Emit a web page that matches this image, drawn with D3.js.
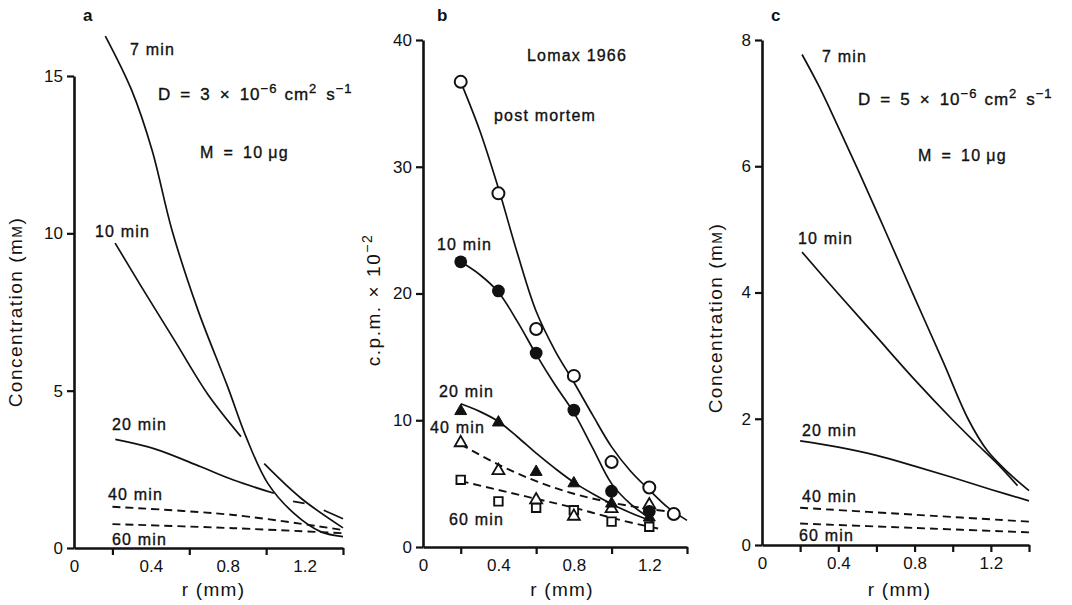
<!DOCTYPE html>
<html><head><meta charset="utf-8">
<script src="https://cdn.jsdelivr.net/npm/d3@7"></script>
<style>
body{margin:0;background:#fff;}
svg text{font-family:"Liberation Sans",Arial,Helvetica,sans-serif;fill:#111;}
</style></head><body>
<svg id="chart" width="1072" height="605"></svg>
<script>
// ---------- shared axis data ----------
const xTickLabels = [0, 0.4, 0.8, 1.2];
const xTicksSparse = [0.2, 0.6, 1.0, 1.4];
const xTicksDense = [0.2, 0.4, 0.6, 0.8, 1.0, 1.2, 1.4];
const yTicksA = [0, 5, 10, 15];
const yTicksB = [0, 10, 20, 30, 40];
const yTicksC = [0, 2, 4, 6, 8];

// ---------- panel a : D = 3e-6, concentration (mM) vs r (mm) ----------
const a7min  = [[[0.163,16.27],[0.30,14.55],[0.406,12.65],[0.51,10.1],[0.645,7.56],[0.80,5.12],[0.895,3.54],[1.007,2.07],[1.145,1.10],[1.283,0.52],[1.40,0.36]]];
const a10min = [[[0.214,9.69],[0.352,8.29],[0.524,6.59],[0.697,4.88],[0.869,3.54]],
                [[0.99,2.68],[1.18,1.59],[1.40,0.64]]];
const a20min = [[[0.215,3.45],[0.42,3.15],[0.66,2.58],[0.83,2.16],[1.04,1.74]],
                [[1.14,1.48],[1.20,1.42]],
                [[1.30,1.20],[1.40,0.93]]];
const a40min = [[[0.2,1.31],[0.83,1.05],[1.4,0.57]]];
const a60min = [[[0.2,0.76],[0.83,0.63],[1.4,0.47]]];

// ---------- panel b : Lomax 1966, c.p.m. x 10^-2 ----------
const bR = [0.2, 0.4, 0.6, 0.8, 1.0, 1.2];
const bPostMortemR = [0.2, 0.4, 0.6, 0.8, 1.0, 1.2, 1.33];
const bPostMortem  = [36.7, 27.9, 17.2, 13.5, 6.7, 4.7, 2.6];
const b10min = [22.5, 20.2, 15.3, 10.8, 4.4, 2.8];
const b20min = [10.8, 9.9, 6.0, 5.1, 3.5, 2.4];
const b40min = [8.3, 6.1, 3.8, 2.5, 3.1, 3.4];
const b60min = [5.3, 3.6, 3.1, 2.9, 2.0, 1.6];
// hand-drawn fitted curves
const bFitPostMortem = [[0.2,36.7],[0.3,32.9],[0.4,28.3],[0.5,23.2],[0.6,18.6],[0.7,15.5],[0.8,13.0],[0.9,10.4],[1.0,7.9],[1.1,6.0],[1.2,4.5],[1.3,3.1],[1.4,2.1]];
const bFit10min = [[0.2,22.5],[0.3,21.5],[0.4,20.1],[0.5,17.8],[0.6,15.2],[0.7,12.8],[0.8,10.6],[0.9,7.8],[1.0,5.0],[1.1,3.4],[1.2,2.3]];
const bFit20min = [[0.2,11.3],[0.3,10.7],[0.4,9.9],[0.5,8.7],[0.6,7.4],[0.7,6.2],[0.8,5.1],[0.9,4.2],[1.0,3.4],[1.1,2.7],[1.22,2.0]];
const bFit40min = [[0.2,8.1],[0.4,6.5],[0.6,5.2],[0.8,4.2],[1.0,3.5],[1.2,3.0],[1.3,2.8]];
const bFit60min = [[0.2,5.2],[0.4,4.5],[0.6,3.8],[0.8,3.1],[1.0,2.3],[1.2,1.6],[1.27,1.4]];

// ---------- panel c : D = 5e-6 ----------
const c7min  = [[[0.21,7.77],[0.30,7.26],[0.40,6.62],[0.51,5.9],[0.65,4.95],[0.80,3.92],[0.95,2.9],[1.08,2.0],[1.18,1.5],[1.29,1.15],[1.4,0.86]]];
const c10min = [[[0.21,4.64],[0.4,3.98],[0.6,3.3],[0.8,2.62],[1.0,1.98],[1.12,1.62],[1.24,1.27],[1.34,0.94]]];
const c20min = [[[0.2,1.65],[0.4,1.55],[0.6,1.42],[0.8,1.25],[1.0,1.07],[1.2,0.88],[1.4,0.70]]];
const c40min = [[[0.2,0.59],[0.8,0.48],[1.4,0.37]]];
const c60min = [[[0.2,0.34],[0.8,0.27],[1.4,0.20]]];

// ---------- drawing ----------
const svg = d3.select("#chart");
const INK = "#111";

function panel(cfg){
  const g = svg.append("g");
  const x = d3.scaleLinear().domain([0,1.4]).range(cfg.xr);
  const y = d3.scaleLinear().domain(cfg.yd).range(cfg.yr);
  const y0 = cfg.yr[0];

  const xa = g.append("g").attr("transform",`translate(0,${y0})`)
    .call(d3.axisBottom(x).tickValues(cfg.xTicks).tickSize(7).tickSizeOuter(0).tickFormat(""));
  xa.select(".domain").attr("stroke",INK).attr("stroke-width",2.6);
  xa.selectAll(".tick line").attr("stroke",INK).attr("stroke-width",2.2);
  const xl = g.append("g").attr("transform",`translate(0,${y0})`)
    .call(d3.axisBottom(x).tickValues(xTickLabels).tickSize(0).tickPadding(12).tickFormat(d=>d===0?"0":d3.format(".1f")(d)));
  xl.select(".domain").remove();
  xl.selectAll("text").attr("font-size",17).attr("fill","#222").style("font-family","Liberation Sans, Arial, sans-serif");

  const ya = g.append("g").attr("transform",`translate(${cfg.xr[0]},0)`)
    .call(d3.axisLeft(y).tickValues(cfg.yTicks).tickSize(7).tickSizeOuter(0).tickPadding(4));
  ya.select(".domain").attr("stroke",INK).attr("stroke-width",2.6);
  ya.selectAll(".tick line").attr("stroke",INK).attr("stroke-width",2.2);
  ya.selectAll("text").attr("font-size",17).attr("fill","#222").style("font-family","Liberation Sans, Arial, sans-serif");

  g.append("text").attr("x",(cfg.xr[0]+cfg.xr[1])/2+cfg.xTitleDx).attr("y",596)
    .attr("text-anchor","middle").attr("font-size",19).attr("letter-spacing",1.3).text("r (mm)");
  g.append("text").attr("x",cfg.letter[0]).attr("y",cfg.letter[1])
    .attr("font-size",17).attr("font-weight","bold").text(cfg.letterText);

  const line = d3.line().x(d=>x(d[0])).y(d=>y(d[1])).curve(d3.curveCatmullRom.alpha(0.5));
  return {g,x,y,line};
}

function drawSeries(p, segs, dashed){
  segs.forEach(s=>{
    p.g.append("path").attr("d",p.line(s)).attr("fill","none").attr("stroke",INK)
      .attr("stroke-width",dashed?1.9:1.7).attr("stroke-dasharray",dashed?"8,5":null);
  });
}

function label(p, x, y, txt){
  p.g.append("text").attr("x",x).attr("y",y).attr("font-size",16).attr("letter-spacing",1.2)
    .attr("stroke",INK).attr("stroke-width",0.35).text(txt);
}

function dText(p, x, y, num){
  const t = p.g.append("text").attr("x",x).attr("y",y).attr("font-size",17)
    .attr("stroke",INK).attr("stroke-width",0.35).attr("letter-spacing",1);
  t.append("tspan").text("D");
  t.append("tspan").attr("dx",9).text("=");
  t.append("tspan").attr("dx",9).text(num);
  t.append("tspan").attr("dx",9).text("×");
  t.append("tspan").attr("dx",9).text("10");
  t.append("tspan").attr("dy",-7).attr("font-size",13).text("−6");
  t.append("tspan").attr("dy",7).attr("dx",7).text("cm");
  t.append("tspan").attr("dy",-7).attr("font-size",13).text("2");
  t.append("tspan").attr("dy",7).attr("dx",9).text("s");
  t.append("tspan").attr("dy",-7).attr("font-size",13).text("−1");
}

function mText(p, x, y){
  const t = p.g.append("text").attr("x",x).attr("y",y).attr("font-size",16)
    .attr("stroke",INK).attr("stroke-width",0.35).attr("letter-spacing",1.2);
  t.append("tspan").text("M");
  t.append("tspan").attr("dx",9).text("=");
  t.append("tspan").attr("dx",9).text("10");
  t.append("tspan").attr("dx",5).text("μg");
}

function concTitle(p, cx, cy){
  const t = p.g.append("text").attr("transform",`translate(${cx},${cy}) rotate(-90)`)
    .attr("text-anchor","middle").attr("font-size",19).attr("letter-spacing",1.5);
  t.append("tspan").text("Concentration (m");
  t.append("tspan").attr("font-size",14).text("M");
  t.append("tspan").text(")");
}

// ----- panel a -----
const pa = panel({xr:[74,343], yd:[0,15], yr:[548,76], yTicks:yTicksA, xTicks:xTicksSparse,
  letter:[83,21], letterText:"a", xTitleDx:5});
drawSeries(pa,a7min,false); drawSeries(pa,a10min,false); drawSeries(pa,a20min,false);
drawSeries(pa,a40min,true); drawSeries(pa,a60min,true);
label(pa,130,55,"7 min"); label(pa,95,237,"10 min"); label(pa,112,430,"20 min");
label(pa,108,500,"40 min"); label(pa,112,545,"60 min");
dText(pa,158,100,"3");
mText(pa,200,158);
concTitle(pa,22,312);

// ----- panel b -----
const pb = panel({xr:[423,687], yd:[0,40], yr:[547,40], yTicks:yTicksB, xTicks:xTicksSparse,
  letter:[437,21], letterText:"b", xTitleDx:7});
[bFitPostMortem,bFit10min,bFit20min].forEach(s=>drawSeries(pb,[s],false));
[bFit40min,bFit60min].forEach(s=>drawSeries(pb,[s],true));
const tri = d3.symbol().type(d3.symbolTriangle).size(62);
const sq = d3.symbol().type(d3.symbolSquare).size(72);
pb.g.selectAll(".sq").data(bR.map((r,i)=>[r,b60min[i]])).join("path")
  .attr("d",sq).attr("transform",d=>`translate(${pb.x(d[0])},${pb.y(d[1])})`)
  .attr("fill","#fff").attr("stroke",INK).attr("stroke-width",1.9);
pb.g.selectAll(".ot").data(bR.map((r,i)=>[r,b40min[i]])).join("path")
  .attr("d",tri).attr("transform",d=>`translate(${pb.x(d[0])},${pb.y(d[1])+1})`)
  .attr("fill","#fff").attr("stroke",INK).attr("stroke-width",1.8);
pb.g.selectAll(".ft").data(bR.map((r,i)=>[r,b20min[i]])).join("path")
  .attr("d",tri).attr("transform",d=>`translate(${pb.x(d[0])},${pb.y(d[1])+1})`)
  .attr("fill",INK).attr("stroke",INK).attr("stroke-width",1);
pb.g.selectAll(".oc").data(bPostMortemR.map((r,i)=>[r,bPostMortem[i]])).join("circle")
  .attr("cx",d=>pb.x(d[0])).attr("cy",d=>pb.y(d[1])).attr("r",6)
  .attr("fill","#fff").attr("stroke",INK).attr("stroke-width",2);
pb.g.selectAll(".fc").data(bR.map((r,i)=>[r,b10min[i]])).join("circle")
  .attr("cx",d=>pb.x(d[0])).attr("cy",d=>pb.y(d[1])).attr("r",6.4).attr("fill",INK);
label(pb,527,61,"Lomax 1966"); label(pb,494,121,"post mortem");
label(pb,437,250,"10 min"); label(pb,439,397,"20 min"); label(pb,430,433,"40 min");
label(pb,449,525,"60 min");
{
  const t = pb.g.append("text").attr("transform","translate(380,300) rotate(-90)")
    .attr("text-anchor","middle").attr("font-size",19).attr("letter-spacing",1.5);
  t.append("tspan").text("c.p.m.");
  t.append("tspan").attr("dx",8).text("×");
  t.append("tspan").attr("dx",8).text("10");
  t.append("tspan").attr("dy",-8).attr("font-size",14).text("−2");
}

// ----- panel c -----
const pc = panel({xr:[762,1029], yd:[0,8], yr:[545,40], yTicks:yTicksC, xTicks:xTicksDense,
  letter:[771,21], letterText:"c", xTitleDx:4});
drawSeries(pc,c7min,false); drawSeries(pc,c10min,false); drawSeries(pc,c20min,false);
drawSeries(pc,c40min,true); drawSeries(pc,c60min,true);
label(pc,822,62,"7 min"); label(pc,798,244,"10 min"); label(pc,802,436,"20 min");
label(pc,802,502,"40 min"); label(pc,799,541,"60 min");
dText(pc,858,105,"5");
mText(pc,918,161);
concTitle(pc,722,318);
</script>
</body></html>
